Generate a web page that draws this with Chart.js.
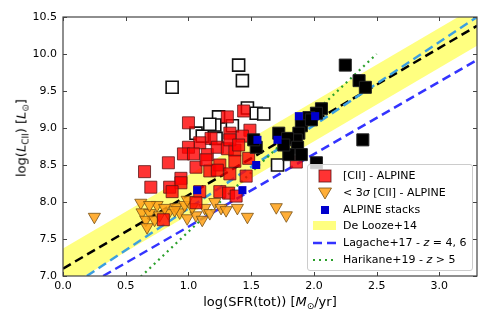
<!DOCTYPE html>
<html>
<head>
<meta charset="utf-8">
<script src="https://cdn.jsdelivr.net/npm/chart.js@4.4.1/dist/chart.umd.min.js"></script>
<style>
  body { margin: 0; background: #fff; }
  #wrap { position: relative; width: 491px; height: 327px; font-family: "DejaVu Sans", sans-serif; }
  #chart { position: absolute; left: 0; top: 0; }
  .lbl { position: absolute; font-size: 13px; color: #000; white-space: nowrap; }
  .lbl sub { font-size: 9px; vertical-align: -3px; }
  #ylabel { left: 22px; top: 138px; transform: translate(-50%, -50%) rotate(-90deg); }
  #xlabel { left: 270px; top: 302px; transform: translate(-50%, -50%); }
  #legend { position: absolute; left: 307px; top: 164px; width: 164px; height: 105px;
    border: 1px solid #ccc; border-radius: 3px; background: rgba(255,255,255,0.8); font-size: 11px; }
  .row { position: absolute; left: 0; height: 16px; line-height: 16px; white-space: nowrap; }
  .row svg { position: absolute; left: 2px; top: 1px; }
  .row span { position: absolute; left: 35px; }
</style>
</head>
<body>
<div id="wrap">
  <canvas id="chart" width="491" height="327"></canvas>
  <div class="lbl" id="ylabel">log(<i>L</i><sub>CII</sub>) [<i>L</i><sub>⊙</sub>]</div>
  <div class="lbl" id="xlabel">log(SFR(tot)) [<i>M</i><sub>⊙</sub>/yr]</div>
  <div id="legend">
    <div class="row" style="top:3px"><svg width="30" height="14"><rect x="9" y="1" width="12" height="12" fill="rgba(255,0,0,0.8)" stroke="rgba(90,20,20,0.8)"/></svg><span>[CII] - ALPINE</span></div>
    <div class="row" style="top:20px"><svg width="30" height="14"><polygon points="8.5,2 21.5,2 15,13" fill="rgba(255,160,20,0.85)" stroke="rgba(120,80,20,0.8)"/></svg><span>&lt; 3<i>σ</i> [CII] - ALPINE</span></div>
    <div class="row" style="top:37px"><svg width="30" height="14"><rect x="11" y="3" width="8" height="8" fill="#0000cd"/></svg><span>ALPINE stacks</span></div>
    <div class="row" style="top:53px"><svg width="30" height="14"><rect x="3" y="2" width="23" height="9" fill="rgb(255,255,128)"/></svg><span>De Looze+14</span></div>
    <div class="row" style="top:70px"><svg width="30" height="14"><line x1="3" y1="7" x2="26" y2="7" stroke="#3333ff" stroke-width="2.5" stroke-dasharray="9,5"/></svg><span>Lagache+17 - <i>z</i> = 4, 6</span></div>
    <div class="row" style="top:87px"><svg width="30" height="14"><line x1="3" y1="7" x2="26" y2="7" stroke="#2ca02c" stroke-width="2.2" stroke-dasharray="2,4"/></svg><span>Harikane+19 - <i>z</i> &gt; 5</span></div>
  </div>
</div>
<script>
// 刻度
const xTicks = [0.0, 0.5, 1.0, 1.5, 2.0, 2.5, 3.0];
const yTicks = [7.0, 7.5, 8.0, 8.5, 9.0, 9.5, 10.0, 10.5];

// [CII] - ALPINE 探测
const detX = [1.00, 1.44, 1.31, 1.49, 1.33, 1.18, 1.09, 1.00, 0.96, 1.04, 1.15, 1.23, 1.31, 1.37, 1.43, 1.37, 1.48, 0.84, 0.65, 1.06,
              1.17, 1.25, 0.94, 1.33, 1.46, 1.86, 0.70, 0.85, 0.94, 0.87, 1.09, 1.06, 1.25, 1.32, 1.38, 0.80, 1.33, 1.23, 1.14, 1.40];
const detY = [9.07, 9.23, 9.15, 8.97, 8.93, 8.86, 8.80, 8.74, 8.65, 8.65, 8.64, 8.74, 8.72, 8.70, 8.89, 8.55, 8.59, 8.53, 8.41, 8.47,
              8.42, 8.50, 8.32, 8.38, 8.35, 8.54, 8.20, 8.20, 8.26, 8.14, 8.14, 7.99, 8.14, 8.12, 8.08, 7.76, 8.84, 8.43, 8.57, 8.77];

// < 3 sigma 上限
const ulX = [0.25, 0.62, 0.75, 0.63, 0.69, 0.66, 0.73, 0.77, 0.84, 0.90, 0.93, 0.97, 0.99, 1.06, 1.03,
             1.11, 1.13, 1.21, 1.26, 1.30, 1.39, 1.47, 1.70, 1.78, 0.67, 0.99, 0.89, 1.17, 0.81, 0.69];
const ulY = [7.80, 7.99, 7.96, 7.86, 7.85, 7.76, 7.76, 7.82, 7.85, 7.93, 7.86, 7.96, 7.78, 7.82, 7.93,
             7.76, 7.92, 8.00, 7.92, 7.89, 7.92, 7.80, 7.93, 7.82, 7.66, 8.03, 7.89, 7.85, 7.92, 7.96];

// 空心方块
const openX = [0.87, 1.40, 1.43, 1.47, 1.54, 1.60, 1.24, 1.21, 1.35, 1.06, 1.11, 1.22, 1.71, 1.17];
const openY = [9.55, 9.85, 9.64, 9.27, 9.20, 9.19, 9.15, 9.04, 9.03, 8.93, 8.89, 8.86, 8.50, 9.05];

// 黑色方块
const lowzX = [2.25, 2.36, 2.41, 2.39, 2.06, 2.02, 1.96, 1.90, 1.88, 1.86, 1.72, 1.79, 1.87, 1.80, 1.90, 1.54, 1.52, 2.02, 1.98, 1.76];
const lowzY = [9.85, 9.64, 9.55, 8.84, 9.26, 9.20, 9.14, 9.03, 8.93, 8.84, 8.93, 8.86, 8.74, 8.64, 8.64, 8.74, 8.84, 8.53, 9.11, 8.77];

// ALPINE stacks
const stackX = [1.07, 1.43, 1.54, 1.55, 1.71, 1.88, 2.01];
const stackY = [8.16, 8.16, 8.50, 8.84, 8.84, 9.16, 9.16];

// 关系线
const lineX = [0.0, 3.3];
const deLoozeY = [7.10, 10.38];
const deLoozeSigma = 0.27;
const fitX = [0.19, 3.3];
const fitY = [7.0, 10.5];
const lagacheX = [0.32, 3.3];
const lagacheY = [7.0, 9.92];
const harikaneX = [0.62, 2.5];
const harikaneY = [6.99, 10.0];

const pts = (xs, ys) => xs.map((x, i) => ({ x: x, y: ys[i] }));

// 内向刻度和边框
const frameTicks = {
  id: 'frameTicks',
  afterDraw(chart) {
    const { ctx, chartArea: a, scales: { x, y } } = chart;
    ctx.save();
    ctx.strokeStyle = '#444';
    ctx.lineWidth = 1;
    ctx.beginPath();
    x.ticks.forEach(t => {
      const px = Math.round(x.getPixelForValue(t.value)) + 0.5;
      ctx.moveTo(px, a.bottom); ctx.lineTo(px, a.bottom - 4);
      ctx.moveTo(px, a.top); ctx.lineTo(px, a.top + 4);
    });
    y.ticks.forEach(t => {
      const py = Math.round(y.getPixelForValue(t.value)) + 0.5;
      ctx.moveTo(a.left, py); ctx.lineTo(a.left + 4, py);
      ctx.moveTo(a.right, py); ctx.lineTo(a.right - 4, py);
    });
    ctx.stroke();
    ctx.lineWidth = 1.2;
    ctx.strokeRect(a.left, a.top, a.right - a.left, a.bottom - a.top);
    ctx.restore();
  }
};

const lineSet = (xs, ys, color, width, dash, order) => ({
  data: pts(xs, ys), showLine: true, pointRadius: 0, borderColor: color,
  borderWidth: width, borderDash: dash, fill: false, order: order
});

new Chart(document.getElementById('chart'), {
  type: 'scatter',
  data: {
    datasets: [
      { data: pts(stackX, stackY), pointStyle: 'rect', pointRadius: 5.7, backgroundColor: '#0000cd', borderWidth: 0, order: 1 },
      { data: pts(lowzX, lowzY), pointStyle: 'rect', pointRadius: 8.5, backgroundColor: '#000', borderColor: '#222', borderWidth: 1, order: 2 },
      { data: pts(detX, detY), pointStyle: 'rect', pointRadius: 8.5, backgroundColor: 'rgba(255,0,0,0.8)', borderColor: 'rgba(90,20,20,0.8)', borderWidth: 1, order: 3 },
      { data: pts(ulX, ulY), pointStyle: 'triangle', rotation: 180, pointRadius: 7, backgroundColor: 'rgba(255,160,20,0.85)', borderColor: 'rgba(120,80,20,0.8)', borderWidth: 1, order: 4 },
      { data: pts(openX, openY), pointStyle: 'rect', pointRadius: 8.5, backgroundColor: '#fff', borderColor: '#111', borderWidth: 1.6, order: 5 },
      lineSet(harikaneX, harikaneY, '#2ca02c', 2.2, [2, 4], 6),
      lineSet(lagacheX, lagacheY, '#3333ff', 2.5, [9, 5], 7),
      lineSet(fitX, fitY, '#3c9fe0', 2.5, [9, 5], 8),
      lineSet(lineX, deLoozeY, '#000', 2.5, [9, 5], 9),
      { data: pts(lineX, deLoozeY.map(v => v + deLoozeSigma)), showLine: true, pointRadius: 0, borderWidth: 0, backgroundColor: 'rgb(255,255,128)', fill: '+1', order: 10 },
      { data: pts(lineX, deLoozeY.map(v => v - deLoozeSigma)), showLine: true, pointRadius: 0, borderWidth: 0, fill: false, order: 11 }
    ]
  },
  options: {
    responsive: false,
    animation: false,
    events: [],
    layout: { padding: { top: 17, right: 14, left: 0, bottom: 0 } },
    plugins: { legend: { display: false }, tooltip: { enabled: false } },
    scales: {
      x: {
        type: 'linear', min: 0, max: 3.3,
        afterFit: s => { s.height = 51; },
        afterBuildTicks: s => { s.ticks = xTicks.map(v => ({ value: v })); },
        grid: { display: false, drawTicks: false },
        border: { display: false },
        ticks: { padding: 4, color: '#000', font: { family: 'DejaVu Sans', size: 11 }, callback: v => v.toFixed(1), maxRotation: 0 }
      },
      y: {
        type: 'linear', min: 7, max: 10.5,
        afterFit: s => { s.width = 63; },
        afterBuildTicks: s => { s.ticks = yTicks.map(v => ({ value: v })); },
        grid: { display: false, drawTicks: false },
        border: { display: false },
        ticks: { padding: 6, color: '#000', font: { family: 'DejaVu Sans', size: 11 }, callback: v => v.toFixed(1) }
      }
    }
  },
  plugins: [frameTicks]
});
</script>
</body>
</html>
